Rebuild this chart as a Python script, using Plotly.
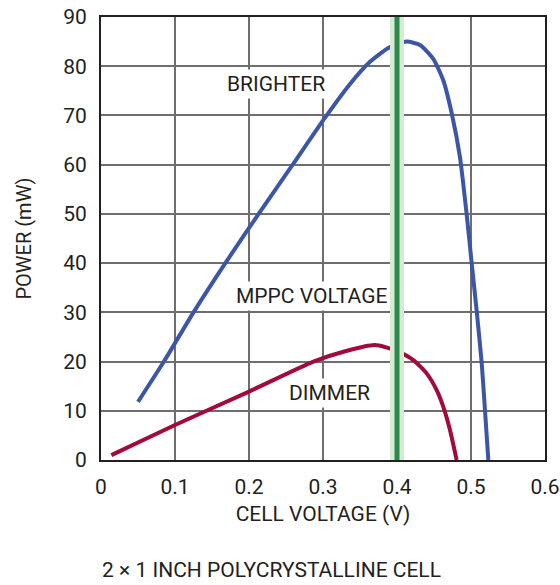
import plotly.graph_objects as go

# BRIGHTER curve (cell voltage V, power mW)
bright_v = [0.05, 0.085, 0.125, 0.168, 0.213, 0.259, 0.303, 0.336, 0.3635, 0.3905, 0.413, 0.431, 0.449, 0.4626, 0.474, 0.485, 0.494, 0.501, 0.508, 0.5145, 0.519, 0.5234]
bright_p = [11.8, 20, 30, 40, 50, 60, 69.6, 76.3, 80.9, 83.9, 85.0, 84.3, 81.5, 77.1, 70.4, 61.6, 50.1, 39.9, 29.8, 19.6, 9.9, 0]

# DIMMER curve
dim_v = [0.014, 0.1, 0.2, 0.287, 0.33, 0.37, 0.3996, 0.422, 0.44, 0.4536, 0.4626, 0.4716, 0.4806]
dim_p = [1.0, 7.1, 13.9, 20, 22.1, 23.35, 22.2, 20.3, 17.6, 14.2, 10.8, 6.1, 0]

mppc_v = 0.4
y_range = [0, 90]
x_range = [0, 0.6]
x_ticks = [0, 0.1, 0.2, 0.3, 0.4, 0.5, 0.6]
x_ticklabels = ["0", "0.1", "0.2", "0.3", "0.4", "0.5", "0.6"]
y_ticks = [0, 10, 20, 30, 40, 50, 60, 70, 80, 90]

labels = [("BRIGHTER", 0.237, 76.3), ("MPPC VOLTAGE", 0.285, 33.3), ("DIMMER", 0.309, 13.6)]

FONT = "Roboto, sans-serif"
TXT = "#231f20"

fig = go.Figure()
fig.add_trace(go.Scatter(x=bright_v, y=bright_p, mode="lines", line=dict(color="#3d55a6", width=4, shape="spline", smoothing=0.6), hoverinfo="skip"))
fig.add_trace(go.Scatter(x=dim_v, y=dim_p, mode="lines", line=dict(color="#a3093a", width=4, shape="spline", smoothing=0.6), hoverinfo="skip"))
fig.add_trace(go.Scatter(x=[mppc_v, mppc_v], y=y_range, mode="lines", line=dict(color="#d6ebd2", width=14), hoverinfo="skip"))
fig.add_trace(go.Scatter(x=[mppc_v, mppc_v], y=y_range, mode="lines", line=dict(color="#2b8a4b", width=5), hoverinfo="skip"))

for text, xv, yv in labels:
    fig.add_annotation(x=xv, y=yv, text=text, showarrow=False, bgcolor="white",
                       font=dict(family=FONT, size=21, color=TXT), borderpad=2)

fig.add_annotation(x=0.385, y=-0.248, xref="paper", yref="paper", xanchor="center", yanchor="middle",
                   text="2 \u00d7 1 INCH POLYCRYSTALLINE CELL", showarrow=False,
                   font=dict(family=FONT, size=21, color=TXT))

fig.update_xaxes(range=x_range, tickvals=x_ticks, ticktext=x_ticklabels, showgrid=True, gridcolor="#6e6e6e", gridwidth=1.5,
                 showline=True, linecolor=TXT, linewidth=2, mirror=True, zeroline=False, automargin=False,
                 ticks="", ticklabelstandoff=7, tickfont=dict(family=FONT, size=21, color=TXT),
                 title=dict(text="CELL VOLTAGE (V)", font=dict(family=FONT, size=21, color=TXT), standoff=8))
fig.update_yaxes(range=y_range, tickvals=y_ticks, showgrid=True, gridcolor="#6e6e6e", gridwidth=1.5,
                 showline=True, linecolor=TXT, linewidth=2, mirror=True, zeroline=False, automargin=False,
                 ticks="", ticklabelstandoff=8, tickfont=dict(family=FONT, size=21, color=TXT),
                 title=dict(text="POWER (mW)", font=dict(family=FONT, size=20, color=TXT), standoff=26))

fig.update_layout(width=560, height=585, margin=dict(l=101, r=15, t=17, b=125),
                  plot_bgcolor="white", paper_bgcolor="white", showlegend=False)

fig.write_html("out.html")
